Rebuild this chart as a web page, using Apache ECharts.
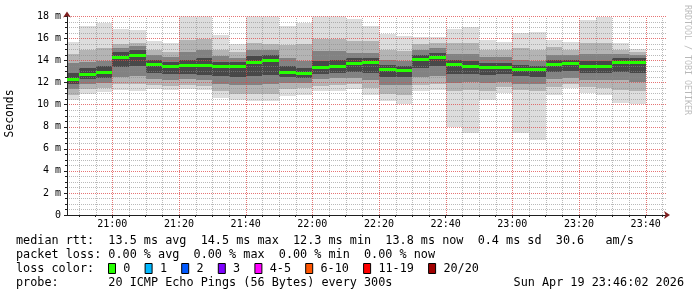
<!DOCTYPE html>
<html><head><meta charset="utf-8">
<script src="https://cdn.jsdelivr.net/npm/echarts@6/dist/echarts.min.js"></script>
<style>html,body{margin:0;padding:0;background:#fff}#c{width:697px;height:297px}</style>
</head><body><div id="c"></div>
<script>
// end time of each 5-minute step
const stepEnds = ['20:50','20:55','21:00','21:05','21:10','21:15','21:20','21:25','21:30','21:35','21:40','21:45','21:50','21:55','22:00','22:05','22:10','22:15','22:20','22:25','22:30','22:35','22:40','22:45','22:50','22:55','23:00','23:05','23:10','23:15','23:20','23:25','23:30','23:35','23:40'];
// smoke (ping spread, ms): outer min/max and inner quantile pairs
const minRtt = [10.4,11.0,11.15,11.3,11.2,11.4,11.3,11.4,11.3,10.6,10.45,10.3,10.3,10.8,10.9,11.2,11.2,11.4,10.9,10.3,10.1,11.2,11.35,7.95,7.4,10.45,11.05,7.4,6.8,10.9,11.5,11.05,10.9,10.2,10.1];
const lo2 = [10.9,11.4,11.5,11.9,11.9,11.8,11.7,11.8,11.7,11.2,11.0,11.0,11.0,11.4,11.5,11.7,11.8,11.9,11.5,11.0,10.9,11.8,11.9,11.2,11.3,11.2,11.6,11.3,11.2,11.6,11.9,11.6,11.5,11.3,11.2];
const lo3 = [11.4,11.9,12.0,12.5,12.6,12.3,12.2,12.3,12.2,11.9,11.8,11.8,11.9,12.0,12.0,12.3,12.4,12.4,12.2,11.8,11.8,12.5,12.6,12.0,12.1,12.0,12.1,11.9,11.9,12.3,12.4,12.2,12.2,12.2,12.1];
const lo4 = [11.9,12.3,12.4,13.4,13.5,12.9,12.8,12.8,12.7,12.6,12.5,12.6,12.7,12.5,12.4,12.8,12.9,13.0,12.9,12.5,12.5,13.3,13.5,12.8,12.8,12.7,12.8,12.6,12.5,13.0,13.1,12.9,12.9,13.0,12.9];
const medianRtt = [12.3,12.8,13.0,14.3,14.55,13.7,13.55,13.6,13.6,13.55,13.5,13.9,14.05,13.0,12.85,13.4,13.55,13.8,13.85,13.25,13.15,14.15,14.35,13.7,13.5,13.4,13.4,13.25,13.2,13.7,13.8,13.55,13.5,13.85,13.85];
const hi4 = [12.9,13.3,13.5,14.8,15.0,14.1,13.9,14.1,14.2,13.9,13.85,14.4,14.5,13.5,13.3,14.0,14.1,14.2,14.2,13.6,13.5,14.5,14.7,14.1,14.0,13.8,13.8,13.6,13.5,14.1,14.1,14.0,14.0,14.2,14.2];
const hi3 = [13.8,13.9,14.0,15.1,15.3,14.5,14.3,14.8,15.0,14.4,14.2,15.0,15.0,14.2,14.0,14.9,14.9,14.7,14.7,14.1,14.0,15.0,15.1,14.6,14.6,14.3,14.3,14.1,14.0,14.5,14.5,14.6,14.6,14.6,14.5];
const hi2 = [14.6,15.0,15.1,15.5,15.6,15.0,14.8,15.9,16.0,15.0,14.8,15.6,15.5,15.4,15.5,16.0,16.0,15.8,15.8,15.0,14.9,15.5,15.6,15.6,15.6,15.0,15.0,15.1,15.0,15.2,15.0,15.6,15.6,15.0,14.8];
const maxRtt = [15.7,17.1,17.4,16.9,16.8,15.8,15.6,18.3,18.3,16.3,15.5,18.3,18.3,17.1,17.4,18.3,18.3,17.8,17.1,16.4,16.2,16.1,16.1,16.9,17.05,15.9,15.7,16.5,16.6,15.85,15.7,17.65,18.0,15.6,15.05];
// axis labels
const xLabels = ['21:00','21:20','21:40','22:00','22:20','22:40','23:00','23:20','23:40'];
const xStart = '20:46:24', xEnd = '23:46:24';
const lossLabels = ['0','1','2','3','4-5','6-10','11-19','20/20'];
const lossColors = ['#26ff00','#00b8ff','#0059ff','#7e00ff','#ff00ff','#ff5500','#ff0000','#a00000'];
const legendLines = [
  'median rtt:  13.5 ms avg  14.5 ms max  12.3 ms min  13.8 ms now  0.4 ms sd  30.6   am/s',
  'packet loss: 0.00 % avg  0.00 % max  0.00 % min  0.00 % now'
];
const probeText = 'probe:       20 ICMP Echo Pings (56 Bytes) every 300s';
const stampText = 'Sun Apr 19 23:46:02 2026';

const STEP = 5;
function toMin(s){ const p = s.split(':').map(Number); return p[0]*60 + p[1] + (p[2]||0)/60; }
const xMin = toMin(xStart), xMax = toMin(xEnd);
const majorTicks = xLabels.map(toMin);
const minorTicks = [];
for (let m = Math.ceil(xMin/STEP)*STEP; m <= xMax; m += STEP) if (majorTicks.indexOf(m) < 0) minorTicks.push(m);

const smokeData = stepEnds.map((t,i)=>[toMin(t), minRtt[i], lo2[i], lo3[i], lo4[i], hi4[i], hi3[i], hi2[i], maxRtt[i]]);
const medianData = stepEnds.map((t,i)=>[toMin(t), medianRtt[i]]);

const FONT = 'DejaVu Sans Mono';
const bands = [[1,8,'#dddddd'],[2,7,'#b4b4b4'],[3,6,'#828282'],[4,5,'#484848']];
const minorGridColor = 'rgba(140,140,140,0.6)';
const majorGridColor = 'rgba(222,70,70,0.75)';

function clipTo(cs, x0, y0, x1, y1){
  return echarts.graphic.clipRectByRect({x:x0, y:y0, width:x1-x0, height:y1-y0}, {x:cs.x, y:cs.y, width:cs.width, height:cs.height});
}
function smokeItem(params, api){
  const cs = params.coordSys;
  const t1 = api.value(0), t0 = t1 - STEP;
  const children = [];
  bands.forEach(b => {
    const a = api.coord([t0, api.value(b[1])]);
    const c = api.coord([t1, api.value(b[0])]);
    const shape = clipTo(cs, Math.round(a[0]), Math.round(a[1]), Math.round(c[0]), Math.round(c[1]));
    if (shape) children.push({type:'rect', shape:shape, style:{fill:b[2]}});
  });
  return {type:'group', children:children};
}
function medianItem(params, api){
  const cs = params.coordSys;
  const t1 = api.value(0);
  const a = api.coord([t1 - STEP, api.value(1)]);
  const c = api.coord([t1, api.value(1)]);
  const y = Math.round(a[1]);
  const shape = clipTo(cs, Math.round(a[0]), y - 1, Math.round(c[0]), y + 2);
  return shape ? {type:'rect', shape:shape, style:{fill:'#26ff00'}} : null;
}
function vGrid(color){
  return function(params, api){
    const cs = params.coordSys;
    const p = api.coord([api.value(0), 0]);
    const x = Math.round(p[0]) + 0.5;
    return {type:'line', shape:{x1:x, y1:Math.round(cs.y + cs.height), x2:x, y2:Math.round(cs.y)},
      style:{stroke:color, lineWidth:1, lineDash:[1,1]}};
  };
}

const graphic = [];
legendLines.forEach((s,i)=>graphic.push({type:'text', x:16, y:241+14*i, style:{text:s, font:'11.8px "'+FONT+'"', fill:'#000', align:'left', verticalAlign:'middle'}}));
graphic.push({type:'text', x:16, y:269, style:{text:'loss color:', font:'11.8px "'+FONT+'"', fill:'#000', align:'left', verticalAlign:'middle'}});
let bx = 108.5;
lossLabels.forEach((l,i)=>{
  graphic.push({type:'rect', shape:{x:bx, y:263.5, width:7, height:10}, style:{fill:lossColors[i], stroke:'#000', lineWidth:1}});
  const lx = bx + 14.8;
  graphic.push({type:'text', x:lx, y:269, style:{text:l, font:'11.8px "'+FONT+'"', fill:'#000', align:'left', verticalAlign:'middle'}});
  bx = lx + l.length*7.1 + 14.7;
});
graphic.push({type:'text', x:16, y:283.3, style:{text:probeText, font:'11.8px "'+FONT+'"', fill:'#000', align:'left', verticalAlign:'middle'}});
graphic.push({type:'text', x:684, y:283.3, style:{text:stampText, font:'11.8px "'+FONT+'"', fill:'#000', align:'right', verticalAlign:'middle'}});
graphic.push({type:'text', x:10, y:113.5, rotation:Math.PI/2, style:{text:'Seconds', font:'11.4px "'+FONT+'"', fill:'#000', align:'center', verticalAlign:'middle'}});
graphic.push({type:'text', x:687.5, y:60, rotation:-Math.PI/2, style:{text:'RRDTOOL / TOBI OETIKER', font:'8.3px "'+FONT+'"', fill:'rgba(0,0,0,0.28)', align:'center', verticalAlign:'middle'}});

const chart = echarts.init(document.getElementById('c'), null, {renderer:'canvas'});
chart.setOption({
  animation:false,
  backgroundColor:'#ffffff',
  grid:{left:67, top:16.5, width:600, height:198.5, outerBoundsMode:'none'},
  xAxis:[
    {type:'value', min:xMin, max:xMax, z:4,
     axisLine:{show:true, lineStyle:{color:'#1f1f1f', width:1}},
     axisTick:{show:true, interval:0, length:2, customValues:minorTicks, lineStyle:{color:'#1f1f1f'}},
     axisLabel:{show:false},
     splitLine:{show:false}},
    {type:'value', min:xMin, max:xMax, z:4, position:'bottom',
     axisLine:{show:true, symbol:['none','arrow'], symbolSize:[6,6], symbolOffset:[0,3], lineStyle:{color:'#801f1f', width:0}},
     axisTick:{show:true, interval:0, length:3, customValues:majorTicks, lineStyle:{color:'#1f1f1f'}},
     axisLabel:{show:true, interval:0, customValues:majorTicks, margin:4, fontSize:10, fontFamily:FONT, color:'#000',
       formatter:v=>{const i = majorTicks.indexOf(v); return i>=0 ? xLabels[i] : '';}},
     splitLine:{show:false}}
  ],
  yAxis:[
    {type:'value', min:0, max:18, interval:2, z:3,
     axisLine:{show:true, lineStyle:{color:'#1f1f1f', width:1}},
     axisTick:{show:true, length:3, lineStyle:{color:'#1f1f1f'}},
     minorTick:{show:true, splitNumber:4, length:2, lineStyle:{color:'#1f1f1f'}},
     axisLabel:{margin:6, fontSize:10, fontFamily:FONT, color:'#000', formatter:v=> v===0 ? '0' : v+' m'},
     splitLine:{show:true, lineStyle:{color:majorGridColor, width:1, type:[1,1]}},
     minorSplitLine:{show:true, lineStyle:{color:minorGridColor, width:1, type:[1,1]}}},
    {type:'value', min:0, max:18, interval:2, z:4, position:'left',
     axisLine:{show:true, symbol:['none','arrow'], symbolSize:[6,6], symbolOffset:[0,5], lineStyle:{color:'#801f1f', width:0}},
     axisTick:{show:false}, axisLabel:{show:false}, splitLine:{show:false}}
  ],
  series:[
    {type:'custom', name:'smoke', xAxisIndex:0, yAxisIndex:0, z:2, renderItem:smokeItem, data:smokeData, encode:{x:0, y:[1,2,3,4,5,6,7,8]}},
    {type:'custom', name:'minor grid', xAxisIndex:0, yAxisIndex:0, z:3, silent:true, renderItem:vGrid(minorGridColor), data:minorTicks.map(v=>[v]), encode:{x:0}},
    {type:'custom', name:'major grid', xAxisIndex:0, yAxisIndex:0, z:3, silent:true, renderItem:vGrid(majorGridColor), data:majorTicks.map(v=>[v]), encode:{x:0}},
    {type:'custom', name:'median', xAxisIndex:0, yAxisIndex:0, z:5, renderItem:medianItem, data:medianData, encode:{x:0, y:1}}
  ],
  graphic:graphic
});
</script></body></html>
